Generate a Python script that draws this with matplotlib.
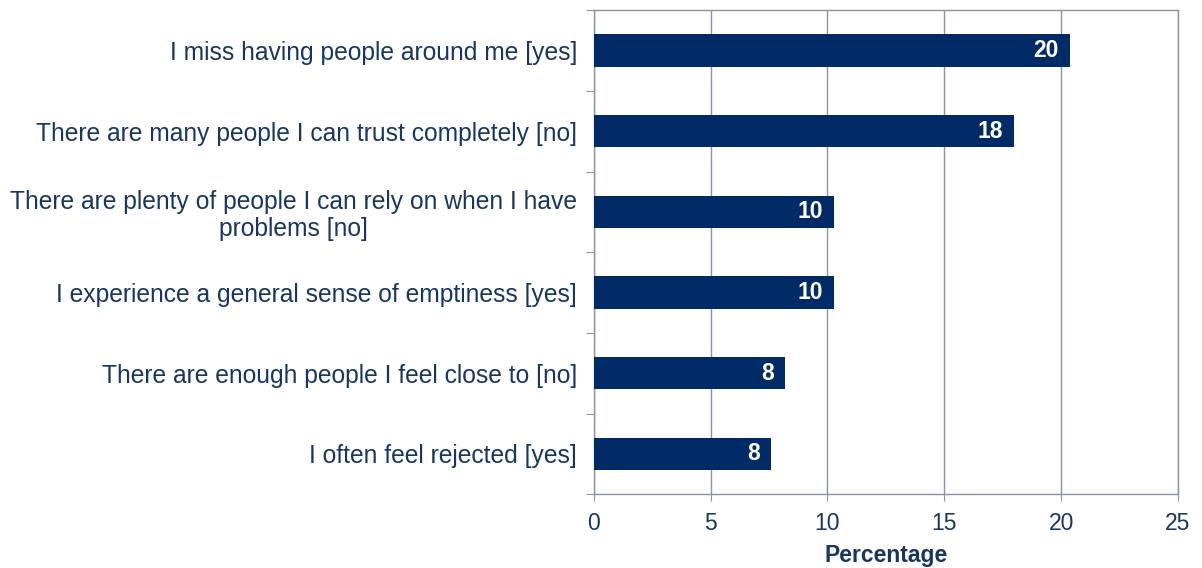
import numpy as np
import matplotlib
matplotlib.use('Agg')
import matplotlib.pyplot as plt

plt.rcParams['font.family'] = ['Liberation Sans', 'DejaVu Sans']

# data, top to bottom as in the chart
labels = ['I miss having people around me [yes]',
          'There are many people I can trust completely [no]',
          'There are plenty of people I can rely on when I have\nproblems [no]',
          'I experience a general sense of emptiness [yes]',
          'There are enough people I feel close to [no]',
          'I often feel rejected [yes]']
values = [20.4, 18.0, 10.3, 10.3, 8.2, 7.6]
value_labels = ['20', '18', '10', '10', '8', '8']

text_col = '#17375e'
bar_col = '#002b66'
grid_col = '#8c92ab'

fig = plt.figure(figsize=(12.02, 5.68), dpi=100)
ax = fig.add_axes([0.494, 0.130, 0.486, 0.852])

n = len(labels)
y = np.arange(n)[::-1]
ax.barh(y, values, height=0.4, color=bar_col, zorder=3)

for yi, v, t in zip(y, values, value_labels):
    ax.text(v - 0.5, yi, t, ha='right', va='center', color='white',
            fontsize=16.5, fontweight='bold', zorder=4)

ax.set_xlim(0, 25)
ax.set_ylim(-0.5, n - 0.5)
ax.set_xticks(range(0, 26, 5))
ax.tick_params(axis='x', labelsize=16.5, labelcolor=text_col, color=grid_col,
               length=5, direction='out', pad=8)
ax.xaxis.grid(True, color=grid_col, linewidth=1, zorder=0)

# category boundaries as ticks, labels centred between them
ax.set_yticks(np.arange(-0.5, n, 1))
ax.set_yticklabels([])
ax.set_yticks(y, minor=True)
ax.set_yticklabels(labels, minor=True, fontsize=17.7, color=text_col,
                   ha='right', multialignment='center', linespacing=1.15)
ax.tick_params(axis='y', which='major', length=6, color=grid_col)
ax.tick_params(axis='y', which='minor', length=0, pad=12)

for s in ax.spines.values():
    s.set_color(grid_col)
    s.set_linewidth(1)

ax.set_xlabel('Percentage', fontsize=16.5, fontweight='bold', color=text_col,
              labelpad=6)

fig.savefig('out.png', dpi=100)
